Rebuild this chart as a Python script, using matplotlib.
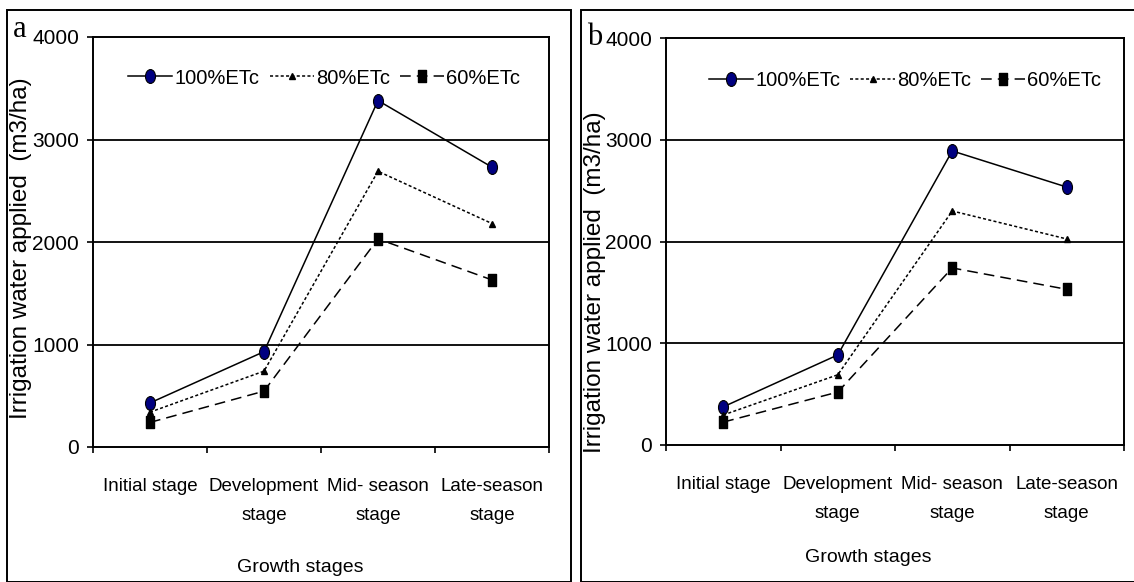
import numpy as np
import matplotlib
matplotlib.use("Agg")
import matplotlib.pyplot as plt
from matplotlib.path import Path
from matplotlib.patches import Rectangle

# growth stages on the x axis
stages = ["Initial stage", "Development\nstage", "Mid- season\nstage", "Late-season\nstage"]
yticks = [0, 1000, 2000, 3000, 4000]

# panel a, irrigation water applied (m3/ha)
a_100 = [430, 930, 3380, 2730]
a_80 = [340, 740, 2690, 2180]
a_60 = [240, 545, 2030, 1630]

# panel b
b_100 = [375, 885, 2890, 2535]
b_80 = [295, 690, 2300, 2025]
b_60 = [225, 520, 1740, 1530]

series_names = ["100%ETc", "80%ETc", "60%ETc"]

SANS = ["Liberation Sans", "DejaVu Sans"]
SERIF = ["Liberation Serif", "DejaVu Serif"]

# markers are taller than wide in the original
c = Path.unit_circle()
ellipse = Path(c.vertices * [0.72, 1.0], c.codes)
tall_sq = Path([(-0.68, -1), (0.68, -1), (0.68, 1), (-0.68, 1), (-0.68, -1)],
               [Path.MOVETO, Path.LINETO, Path.LINETO, Path.LINETO, Path.CLOSEPOLY])

W, H = 1134, 582
fig = plt.figure(figsize=(W / 100, H / 100), dpi=100)


def px_box(x0, y0, x1, y1):
    return [x0 / W, 1 - y1 / H, (x1 - x0) / W, (y1 - y0) / H]


def panel(rect, v100, v80, v60, leg_xy):
    ax = fig.add_axes(rect)
    x = np.arange(len(stages))
    ax.plot(x, v100, color="black", lw=1.1, ls="-", marker=ellipse, ms=10,
            mfc="#000080", mec="black", mew=0.8, label=series_names[0])
    ax.plot(x, v80, color="black", lw=1.1, ls=(0, (2, 1.5)), marker="^", ms=4.5,
            mfc="black", mec="black", label=series_names[1])
    ax.plot(x, v60, color="black", lw=1.1, ls=(0, (7, 4)), marker=tall_sq, ms=9,
            mfc="black", mec="black", label=series_names[2])
    ax.set_xlim(-0.5, 3.5)
    ax.set_ylim(0, 4000)
    for v in yticks[1:-1]:
        ax.axhline(v, color="black", lw=1.3, zorder=0)
    for s in ax.spines.values():
        s.set_linewidth(1.4)
    ax.set_yticks(yticks)
    ax.set_yticklabels([str(v) for v in yticks], family=SANS, fontsize=15)
    ax.tick_params(axis="y", direction="out", length=4, width=1.2, pad=6)
    ax.set_xticks(x)
    ax.set_xticklabels(stages, family=SANS, fontsize=13.5, linespacing=1.95)
    ax.set_xticks(np.arange(-0.5, 4, 1), minor=True)
    ax.tick_params(axis="x", which="major", length=0, pad=22)
    ax.tick_params(axis="x", which="minor", direction="out", length=4, width=1.2)
    ax.legend(loc="center", bbox_to_anchor=leg_xy, ncol=3,
              frameon=False, handlelength=2.2, handletextpad=0.1,
              columnspacing=0.5, prop={"family": SANS, "size": 14.5})
    return ax


panel(px_box(93, 37, 549, 447), a_100, a_80, a_60, (0.507, 0.900))
panel(px_box(666, 38, 1124, 445), b_100, b_80, b_60, (0.522, 0.895))

# panel frames
fig.add_artist(Rectangle((7 / W, 0), (571 - 7) / W, 1 - 10 / H, transform=fig.transFigure,
                         fill=False, lw=1.4, ec="black"))
fig.add_artist(Rectangle((581 / W, 0), (1140 - 581) / W, 1 - 10 / H, transform=fig.transFigure,
                         fill=False, lw=1.4, ec="black"))

fig.text(13 / W, 1 - 37 / H, "a", family=SERIF, fontsize=22, ha="left", va="baseline")
fig.text(587 / W, 1 - 45 / H, "b", family=SERIF, fontsize=22, ha="left", va="baseline")

ylab = "Irrigation water applied  (m3/ha)"
fig.text(21 / W, 1 - 248 / H, ylab, rotation=90, family=SANS, fontsize=17.5,
         ha="center", va="center")
fig.text(595 / W, 1 - 282 / H, ylab, rotation=90, family=SANS, fontsize=17.5,
         ha="center", va="center")

fig.text(300 / W, 1 - 567 / H, "Growth stages", family=SANS, fontsize=14,
         ha="center", va="center")
fig.text(868 / W, 1 - 558 / H, "Growth stages", family=SANS, fontsize=14,
         ha="center", va="center")

fig.savefig("out.png", dpi=100)
